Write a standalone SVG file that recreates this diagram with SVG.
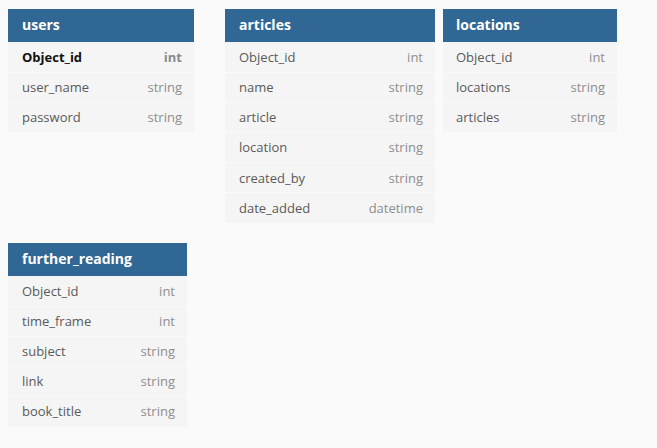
<svg xmlns="http://www.w3.org/2000/svg" width="657" height="448" viewBox="0 0 657 448">
<style>
.hdr{fill:#316794}
.body{fill:#f5f5f5}
.sep{stroke:#fafafa;stroke-width:1}
.title{font-family:"Open Sans","DejaVu Sans",sans-serif;font-size:14px;font-weight:bold;fill:#ffffff}
.fn{font-family:"Open Sans","DejaVu Sans",sans-serif;font-size:13px;fill:#5a5a5a}
.ft{font-family:"Open Sans","DejaVu Sans",sans-serif;font-size:13px;fill:#8e8e8e;text-anchor:end}
.pk{font-weight:bold;fill:#111111}
.pkt{font-weight:bold;fill:#8a8a8a}
</style>
<rect width="657" height="448" fill="#fafafa"/>
<g id="connectors"/>
<g id="users">
<rect class="hdr" x="8" y="9" width="186" height="33"/>
<rect class="body" x="8" y="42" width="186" height="90"/>
<line class="sep" x1="8" y1="72.5" x2="194" y2="72.5"/>
<line class="sep" x1="8" y1="102.5" x2="194" y2="102.5"/>
<text class="title" x="22" y="30">users</text>
<text class="fn pk" x="22" y="61.5">Object_id</text><text class="ft pkt" x="182" y="61.5">int</text>
<text class="fn" x="22" y="91.5">user_name</text><text class="ft" x="182" y="91.5">string</text>
<text class="fn" x="22" y="121.5">password</text><text class="ft" x="182" y="121.5">string</text>
</g>
<g id="articles">
<rect class="hdr" x="225" y="9" width="210" height="33"/>
<rect class="body" x="225" y="42" width="210" height="181"/>
<line class="sep" x1="225" y1="72.5" x2="435" y2="72.5"/>
<line class="sep" x1="225" y1="102.5" x2="435" y2="102.5"/>
<line class="sep" x1="225" y1="132.5" x2="435" y2="132.5"/>
<line class="sep" x1="225" y1="162.5" x2="435" y2="162.5"/>
<line class="sep" x1="225" y1="192.5" x2="435" y2="192.5"/>
<text class="title" x="239" y="30">articles</text>
<text class="fn" x="239" y="61.5">Object_id</text><text class="ft" x="423" y="61.5">int</text>
<text class="fn" x="239" y="91.5">name</text><text class="ft" x="423" y="91.5">string</text>
<text class="fn" x="239" y="121.5">article</text><text class="ft" x="423" y="121.5">string</text>
<text class="fn" x="239" y="152">location</text><text class="ft" x="423" y="152">string</text>
<text class="fn" x="239" y="182.5">created_by</text><text class="ft" x="423" y="182.5">string</text>
<text class="fn" x="239" y="212.5">date_added</text><text class="ft" x="423" y="212.5">datetime</text>
</g>
<g id="locations">
<rect class="hdr" x="443" y="9" width="174" height="33"/>
<rect class="body" x="443" y="42" width="174" height="90"/>
<line class="sep" x1="443" y1="72.5" x2="617" y2="72.5"/>
<line class="sep" x1="443" y1="102.5" x2="617" y2="102.5"/>
<text class="title" x="456" y="30">locations</text>
<text class="fn" x="456" y="61.5">Object_id</text><text class="ft" x="605" y="61.5">int</text>
<text class="fn" x="456" y="91.5">locations</text><text class="ft" x="605" y="91.5">string</text>
<text class="fn" x="456" y="121.5">articles</text><text class="ft" x="605" y="121.5">string</text>
</g>
<g id="further_reading">
<rect class="hdr" x="8" y="243" width="179" height="33"/>
<rect class="body" x="8" y="276" width="179" height="151"/>
<line class="sep" x1="8" y1="306.5" x2="187" y2="306.5"/>
<line class="sep" x1="8" y1="336.5" x2="187" y2="336.5"/>
<line class="sep" x1="8" y1="366.5" x2="187" y2="366.5"/>
<line class="sep" x1="8" y1="396.5" x2="187" y2="396.5"/>
<text class="title" x="22" y="264">further_reading</text>
<text class="fn" x="22" y="295.5">Object_id</text><text class="ft" x="175" y="295.5">int</text>
<text class="fn" x="22" y="325.5">time_frame</text><text class="ft" x="175" y="325.5">int</text>
<text class="fn" x="22" y="355.5">subject</text><text class="ft" x="175" y="355.5">string</text>
<text class="fn" x="22" y="386">link</text><text class="ft" x="175" y="386">string</text>
<text class="fn" x="22" y="416">book_title</text><text class="ft" x="175" y="416">string</text>
</g>
</svg>
